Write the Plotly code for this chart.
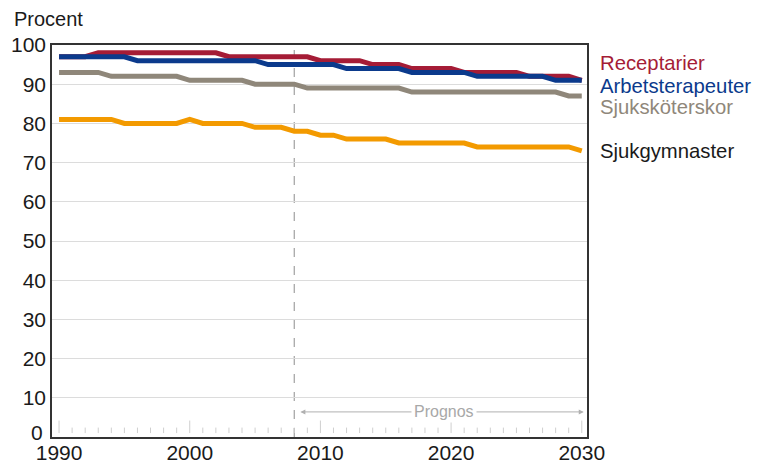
import plotly.graph_objects as go

years = list(range(1990, 2031))

receptarier = [97, 97, 97] + [98] * 10 + [97] * 7 + [96] * 4 + [95] * 3 + [94] * 4 + [93] * 5 + [92] * 4 + [91]
arbetsterapeuter = [97] * 6 + [96] * 10 + [95] * 6 + [94] * 5 + [93] * 5 + [92] * 6 + [91] * 3
sjukskoterskor = [93] * 4 + [92] * 6 + [91] * 5 + [90] * 4 + [89] * 8 + [88] * 12 + [87] * 2
sjukgymnaster = [81] * 5 + [80] * 5 + [81] + [80] * 4 + [79] * 3 + [78] * 2 + [77] * 2 + [76] * 4 + [75] * 6 + [74] * 8 + [73]

series = [
    ('Sjukgymnaster', sjukgymnaster, '#f39a00', '#1a1a1a', 73.0),
    ('Sjuksköterskor', sjukskoterskor, '#8f877a', '#8f877a', 84.2),
    ('Receptarier', receptarier, '#a51c36', '#a51c36', 95.4),
    ('Arbetsterapeuter', arbetsterapeuter, '#0b3a8c', '#0b3a8c', 89.6),
]

prognos_start = 2008
major_years = [1990, 2000, 2010, 2020, 2030]
y_ticks = list(range(10, 101, 10))

FONT = 'Liberation Sans, Arial, sans-serif'

fig = go.Figure()
for name, vals, color, label_color, label_y in series:
    fig.add_trace(go.Scatter(
        x=years, y=vals, mode='lines', name=name,
        line=dict(color=color, width=5),
        hoverinfo='x+y+name'
    ))

shapes = []
# small year ticks floating just above the x axis
for yr in years:
    big = yr in major_years
    shapes.append(dict(
        type='line', xref='x', yref='y',
        x0=yr, x1=yr, y0=1.0, y1=4.2 if big else 2.4,
        line=dict(color='#cfcfcf', width=1)
    ))
# forecast divider
shapes.append(dict(
    type='line', xref='x', yref='y',
    x0=prognos_start, x1=prognos_start, y0=0, y1=100,
    line=dict(color='#a8a8a8', width=1.3, dash='dash'),
    layer='below'
))

annotations = []
for name, vals, color, label_color, label_y in series:
    annotations.append(dict(
        text=name, xref='paper', yref='y', x=1.0206, y=label_y,
        xanchor='left', yanchor='middle', showarrow=False,
        font=dict(size=20.3, color=label_color, family=FONT)
    ))
annotations.append(dict(
    text='Procent', xref='paper', yref='paper', x=-0.0748, y=1.066,
    xanchor='left', yanchor='middle', showarrow=False,
    font=dict(size=20, color='#1a1a1a', family=FONT)
))
# the zero label sits a little above the axis, clear of the year labels
annotations.append(dict(
    text='0', xref='paper', yref='y', x=-0.013, y=1.2,
    xanchor='right', yanchor='middle', showarrow=False,
    font=dict(size=21, color='#1a1a1a', family=FONT)
))
# prognos arrow
annotations.append(dict(
    text='', xref='x', yref='y', x=2030.15, y=6.4,
    axref='x', ayref='y', ax=2008.35, ay=6.4,
    showarrow=True, arrowside='end+start', arrowhead=2, startarrowhead=2,
    arrowsize=1, startarrowsize=1, arrowwidth=1, arrowcolor='#b0b0b0'
))
annotations.append(dict(
    text='Prognos', xref='x', yref='y', x=2019.45, y=6.4,
    xanchor='center', yanchor='middle', showarrow=False,
    bgcolor='white', borderpad=2,
    font=dict(size=16, color='#a8a8a8', family=FONT)
))

# the page body adds an 8px offset, so the figure is drawn 8px smaller
fig.update_layout(
    width=752, height=455,
    paper_bgcolor='white', plot_bgcolor='white',
    font=dict(family=FONT, size=21, color='#1a1a1a'),
    showlegend=False,
    margin=dict(l=44, r=173, t=37, b=26),
    xaxis=dict(
        range=[1989.46, 2030.4], automargin=False,
        tickvals=major_years, ticks='', ticklen=0,
        ticklabelstandoff=-4,
        showgrid=False, zeroline=False,
        showline=True, linecolor='#333333', linewidth=1.5, mirror=True,
        tickfont=dict(size=21),
    ),
    yaxis=dict(
        range=[0, 100], tickvals=y_ticks, ticks='', automargin=False,
        showgrid=True, gridcolor='#dcdcdc', gridwidth=1, zeroline=False,
        showline=True, linecolor='#333333', linewidth=1.5, mirror=True,
        tickfont=dict(size=21),
    ),
    shapes=shapes,
    annotations=annotations,
)

fig.write_html("out.html")
